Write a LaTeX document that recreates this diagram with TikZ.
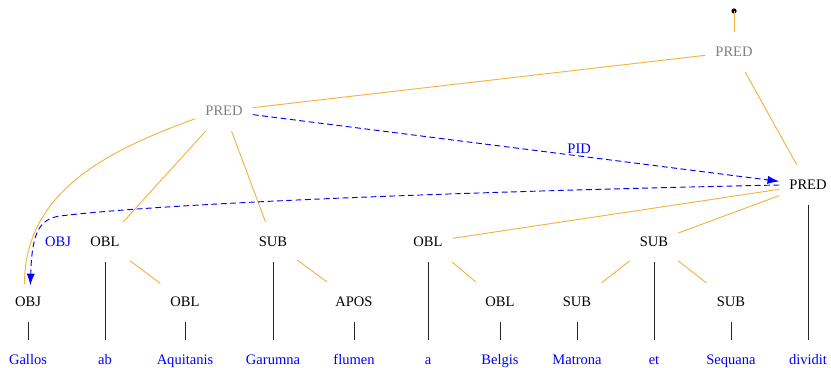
\documentclass[tikz,border=0pt]{standalone}
\usepackage{fontspec}
\setmainfont{Liberation Serif}
\usetikzlibrary{arrows.meta}
\definecolor{arcdep}{RGB}{245,178,65}
\definecolor{gris}{RGB}{128,128,128}

\tikzset{
  tok/.style={font=\fontsize{12.4}{14}\selectfont, inner xsep=8.5pt, inner ysep=12pt, text height=9pt, text depth=1pt},
  mot/.style={tok, text=blue},
  fct/.style={tok},
  lbl/.style={font=\fontsize{12.4}{14}\selectfont, text=blue, inner sep=1pt, text height=9pt, text depth=1pt},
  arc/.style={arcdep, line width=0.8pt},
  proj/.style={black!85, line width=0.6pt},
  lien/.style={blue, line width=0.8pt, dash pattern=on 5pt off 3pt, ->, >={Latex[length=10pt,width=7pt]}}
}

\begin{document}
\begin{tikzpicture}[x=0.03cm,y=-0.03cm]
\useasboundingbox (0,0) rectangle (831,368);
\node[mot] (gallos) at (28,360) {Gallos};
\node[mot] (ab) at (105,360) {ab};
\node[mot] (aquitanis) at (185,360) {Aquitanis};
\node[mot] (garumna) at (273,360) {Garumna};
\node[mot] (flumen) at (354,360) {flumen};
\node[mot] (a) at (428,360) {a};
\node[mot] (belgis) at (500,360) {Belgis};
\node[mot] (matrona) at (577,360) {Matrona};
\node[mot] (et) at (654,360) {et};
\node[mot] (sequana) at (731,360) {Sequana};
\node[mot] (dividit) at (808,360) {dividit};
\node[fct] (obj) at (28,302) {OBJ};
\node[fct] (obl2) at (185,302) {OBL};
\node[fct] (apos) at (354,302) {APOS};
\node[fct] (obl4) at (500,302) {OBL};
\node[fct] (sub3) at (577,302) {SUB};
\node[fct] (sub4) at (731,302) {SUB};
\node[fct] (obl1) at (105,242) {OBL};
\node[fct] (sub1) at (273,242) {SUB};
\node[fct] (obl3) at (428,242) {OBL};
\node[fct] (sub2) at (654,242) {SUB};
\node[fct] (pred3) at (808,185) {PRED};
\node[fct,text=gris] (pred1) at (224,111) {PRED};
\node[fct,text=gris] (pred2) at (734,52) {PRED};
\node[lbl] (lobj) at (58,242) {OBJ};
\coordinate (racine) at (734,11);
\fill (racine) circle (2.6);
\draw[proj] (obj) -- (gallos);
\draw[proj] (obl1) -- (ab);
\draw[proj] (obl2) -- (aquitanis);
\draw[proj] (sub1) -- (garumna);
\draw[proj] (apos) -- (flumen);
\draw[proj] (obl3) -- (a);
\draw[proj] (obl4) -- (belgis);
\draw[proj] (sub3) -- (matrona);
\draw[proj] (sub2) -- (et);
\draw[proj] (sub4) -- (sequana);
\draw[proj] (pred3) -- (dividit);
\draw[arc] (racine) -- (pred2);
\draw[arc] (pred2) -- (pred1);
\draw[arc] (pred2) -- (pred3);
\draw[arc] (pred1) -- (obl1);
\draw[arc] (pred1) -- (sub1);
\draw[arc] (pred1.195) to[out=200,in=90] ([xshift=-3pt,yshift=-2pt]obj.north);
\draw[arc] (obl1) -- (obl2);
\draw[arc] (sub1) -- (apos);
\draw[arc] (pred3) -- (obl3);
\draw[arc] (pred3) -- (sub2);
\draw[arc] (obl3) -- (obl4);
\draw[arc] (sub2) -- (sub3);
\draw[arc] (sub2) -- (sub4);
\draw[lien] (pred1) -- node[lbl, pos=0.62, above] {PID} (pred3);
\draw[lien] (pred3.west) .. controls (400,193) and (150,205) .. (60,216) .. controls (38,219) and (32,235) .. ([xshift=2pt,yshift=-3pt]obj.north);
\end{tikzpicture}
\end{document}
